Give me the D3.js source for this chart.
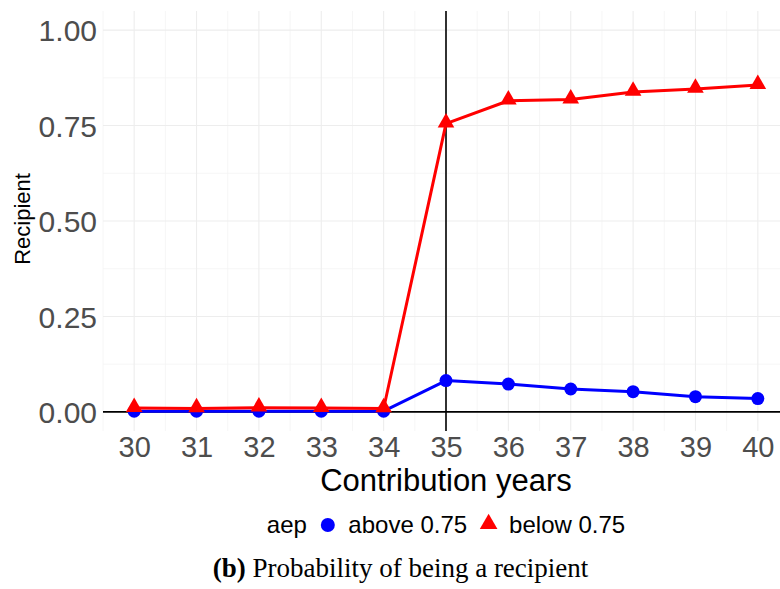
<!DOCTYPE html>
<html>
<head>
<meta charset="utf-8">
<script src="https://cdn.jsdelivr.net/npm/d3@7"></script>
<style>
  body { margin: 0; background: #fff; }
  svg { display: block; }
</style>
</head>
<body>
<svg id="chart" width="780" height="589"></svg>
<script>
// contribution years on the x axis
var years = [30, 31, 32, 33, 34, 35, 36, 37, 38, 39, 40]
// share of recipients, by aep group
var aboveValues = [0.002, 0.002, 0.002, 0.002, 0.002, 0.082, 0.073, 0.060, 0.053, 0.040, 0.035]
var belowValues = [0.010, 0.009, 0.011, 0.010, 0.009, 0.755, 0.815, 0.818, 0.838, 0.846, 0.856]
var seriesNames = ["above 0.75", "below 0.75"]
var yTicks = [0, 0.25, 0.5, 0.75, 1]
var cutoffYear = 35

var series = [
  { name: seriesNames[0], color: "#0000ff", shape: "circle", values: aboveValues },
  { name: seriesNames[1], color: "#ff0000", shape: "triangle", values: belowValues }
]

var svg = d3.select("#chart")
var panel = { left: 103, right: 789, top: 11, bottom: 431 }
var sans = "Liberation Sans, Arial, sans-serif"

var x = d3.scaleLinear()
  .domain([29.5, 40.5])
  .range([panel.left, panel.right])
var y = d3.scaleLinear()
  .domain([-0.05, 1.05])
  .range([panel.bottom, panel.top])

var grid = svg.append("g").attr("class", "grid")
// minor grid
var xMinor = d3.range(29.5, 40.6, 1)
var yMinor = [0.125, 0.375, 0.625, 0.875]
grid.selectAll(".xminor").data(xMinor).enter().append("line")
  .attr("x1", function(d) { return x(d) }).attr("x2", function(d) { return x(d) })
  .attr("y1", panel.top).attr("y2", panel.bottom)
  .attr("stroke", "#f4f4f4").attr("stroke-width", 0.8)
grid.selectAll(".yminor").data(yMinor).enter().append("line")
  .attr("x1", panel.left).attr("x2", panel.right)
  .attr("y1", function(d) { return y(d) }).attr("y2", function(d) { return y(d) })
  .attr("stroke", "#f4f4f4").attr("stroke-width", 0.8)
// major grid
grid.selectAll(".xmajor").data(years).enter().append("line")
  .attr("x1", function(d) { return x(d) }).attr("x2", function(d) { return x(d) })
  .attr("y1", panel.top).attr("y2", panel.bottom)
  .attr("stroke", "#ededed").attr("stroke-width", 1.1)
grid.selectAll(".ymajor").data(yTicks).enter().append("line")
  .attr("x1", panel.left).attr("x2", panel.right)
  .attr("y1", function(d) { return y(d) }).attr("y2", function(d) { return y(d) })
  .attr("stroke", "#ededed").attr("stroke-width", 1.1)

// axes (ticks hidden, labels only)
var yAxis = svg.append("g")
  .attr("transform", "translate(" + panel.left + ",0)")
  .call(d3.axisLeft(y).tickValues(yTicks).tickSize(0).tickPadding(6)
    .tickFormat(d3.format(".2f")))
var xAxis = svg.append("g")
  .attr("transform", "translate(0," + panel.bottom + ")")
  .call(d3.axisBottom(x).tickValues(years).tickSize(0).tickPadding(5)
    .tickFormat(d3.format("d")))
;[yAxis, xAxis].forEach(function(a) {
  a.select(".domain").remove()
  a.selectAll("text")
    .attr("fill", "#4d4d4d")
    .style("font-family", sans)
    .style("font-size", "30px")
})
xAxis.selectAll("text").style("font-size", "29px")
yAxis.selectAll("text").attr("dy", "0.36em")

// reference lines
svg.append("line")
  .attr("x1", panel.left).attr("x2", panel.right)
  .attr("y1", y(0)).attr("y2", y(0))
  .attr("stroke", "#000").attr("stroke-width", 1.6)
svg.append("line")
  .attr("x1", x(cutoffYear)).attr("x2", x(cutoffYear))
  .attr("y1", panel.top).attr("y2", panel.bottom)
  .attr("stroke", "#000").attr("stroke-width", 1.6)

var line = d3.line()
  .x(function(d, i) { return x(years[i]) })
  .y(function(d) { return y(d) })

var tri = d3.symbol().type(d3.symbolTriangle).size(120)

series.forEach(function(s) {
  var g = svg.append("g").attr("class", "series")
  g.append("path")
    .attr("d", line(s.values))
    .attr("fill", "none")
    .attr("stroke", s.color)
    .attr("stroke-width", 3)
    .attr("stroke-linejoin", "round")
  if (s.shape === "circle") {
    g.selectAll("circle").data(s.values).enter().append("circle")
      .attr("cx", function(d, i) { return x(years[i]) })
      .attr("cy", function(d) { return y(d) })
      .attr("r", 6.5)
      .attr("fill", s.color)
  } else {
    g.selectAll(".tri").data(s.values).enter().append("path")
      .attr("d", tri)
      .attr("transform", function(d, i) { return "translate(" + x(years[i]) + "," + (y(d) - 1) + ")" })
      .attr("fill", s.color)
  }
})

// axis titles
svg.append("text")
  .attr("x", (panel.left + panel.right) / 2)
  .attr("y", 491)
  .attr("text-anchor", "middle")
  .style("font-family", sans)
  .style("font-size", "31px")
  .text("Contribution years")
svg.append("text")
  .attr("transform", "translate(29.5,219) rotate(-90)")
  .attr("text-anchor", "middle")
  .style("font-family", sans)
  .style("font-size", "22px")
  .text("Recipient")

// legend, laid out left to right then centred on the panel
var legend = svg.append("g")
var lx = 0
var ly = 533
var legendFont = function(t) {
  t.style("font-family", sans).style("font-size", "24px")
}
var t0 = legend.append("text").attr("x", lx).attr("y", ly).text("aep").call(legendFont)
lx += t0.node().getComputedTextLength() + 21
series.forEach(function(s) {
  if (s.shape === "circle") {
    legend.append("circle").attr("cx", lx).attr("cy", ly - 8).attr("r", 7).attr("fill", s.color)
  } else {
    legend.append("path").attr("d", d3.symbol().type(d3.symbolTriangle).size(135))
      .attr("transform", "translate(" + lx + "," + (ly - 9) + ")")
      .attr("fill", s.color)
  }
  lx += 20.5
  var t = legend.append("text").attr("x", lx).attr("y", ly).text(s.name).call(legendFont)
  lx += t.node().getComputedTextLength() + 21.5
})
var legendWidth = lx - 21.5
legend.attr("transform", "translate(" + ((panel.left + panel.right) / 2 - legendWidth / 2) + ",0)")

// caption
var cap = svg.append("text")
  .attr("x", 400.5)
  .attr("y", 577)
  .attr("text-anchor", "middle")
  .style("font-family", "Liberation Serif, Times New Roman, serif")
  .style("font-size", "27px")
cap.append("tspan").style("font-weight", "bold").text("(b)")
cap.append("tspan").text(" Probability of being a recipient")
</script>
</body>
</html>
